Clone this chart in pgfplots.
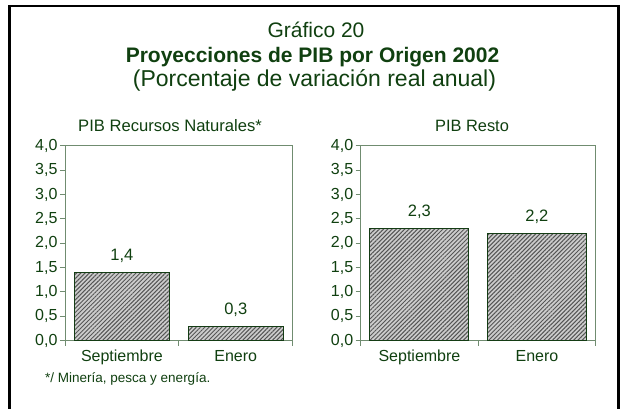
\documentclass[border=0pt]{standalone}
\usepackage{pgfplots}
\pgfplotsset{compat=1.18}
\usetikzlibrary{patterns.meta}
\usepackage{fontspec}
\setmainfont{Liberation Sans}
\definecolor{txt}{RGB}{16,64,16}
\definecolor{axisc}{RGB}{112,140,112}
\definecolor{barc}{RGB}{20,60,20}
\definecolor{hatchc}{RGB}{85,85,85}
\pgfplotsset{
  panel/.style={
    scale only axis, height=195pt,
    ymin=0, ymax=4, ytick={0,0.5,...,4},
    xmin=-0.5, xmax=1.5,
    xtick={-0.5,0.5,1.5}, xticklabels={},
    extra x ticks={0,1}, extra x tick labels={Septiembre,Enero},
    extra x tick style={major tick length=0pt},
    tick align=outside, major tick length=5pt,
    xtick pos=bottom, ytick pos=left,
    axis line style={draw=axisc, line width=0.9pt},
    tick style={draw=axisc, line width=0.9pt},
    /pgf/number format/.cd, use comma, fixed, fixed zerofill, precision=1, assume math mode=true,
    /pgfplots/.cd,
    ticklabel style={font=\fontsize{16}{18}\selectfont, text=txt},
    yticklabel style={xshift=1pt},
    xticklabel style={yshift=-6pt, text height=11.5pt, text depth=3.5pt},
    ybar, bar shift=0pt,
    nodes near coords,
    every node near coord/.append style={font=\fontsize{16.5}{19}\selectfont, text=txt, yshift=6pt},
  },
  barsty/.style={draw=barc, line width=1pt, fill=gray!40,
    postaction={pattern={Lines[angle=45,distance=3pt,line width=1pt]}, pattern color=hatchc}},
}
\begin{document}
\begin{tikzpicture}[x=1pt,y=1pt]
\path[use as bounding box, fill=white] (0,0) rectangle (621,409);
\draw[black, line width=2.8pt] (9.5,0) -- (9.5,403) -- (618.3,403) -- (618.3,0);
\node[anchor=base, text=txt, font=\fontsize{21}{24}\selectfont] at (316,371) {Gráfico 20};
\node[anchor=base, text=txt, font=\fontsize{21}{24}\selectfont\bfseries] at (312.5,346) {Proyecciones de PIB por Origen 2002};
\node[anchor=base, text=txt, font=\fontsize{23}{26}\selectfont] at (314.5,322) {(Porcentaje de variación real anual)};
\node[anchor=base, text=txt, font=\fontsize{16.6}{19}\selectfont] at (170,277) {PIB Recursos Naturales*};
\node[anchor=base, text=txt, font=\fontsize{16.4}{19}\selectfont] at (472,277) {PIB Resto};
\node[anchor=base west, inner sep=0pt, text=txt, font=\fontsize{13.5}{16}\selectfont] at (45,26) {*/ Minería, pesca y energía.};
\begin{axis}[panel, width=227.7pt, at={(65pt,68.3pt)}, anchor=south west, bar width=0.835]
\addplot[barsty] coordinates {(0,1.4) (1,0.3)};
\end{axis}
\begin{axis}[panel, width=235pt, at={(360.7pt,68.3pt)}, anchor=south west, bar width=0.843]
\addplot[barsty] coordinates {(0,2.3) (1,2.2)};
\end{axis}
\end{tikzpicture}
\end{document}
